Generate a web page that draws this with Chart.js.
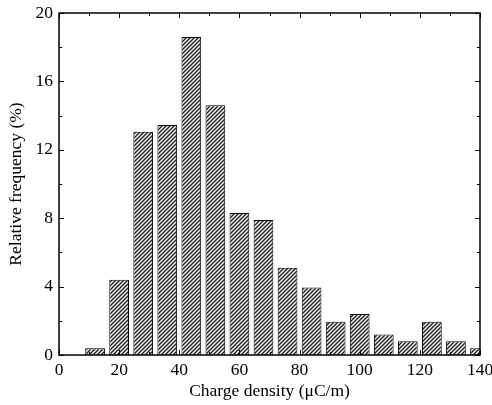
<!DOCTYPE html>
<html>
<head>
<meta charset="utf-8">
<script src="https://cdn.jsdelivr.net/npm/chart.js@4.4.1/dist/chart.umd.min.js"></script>
<style>
  html, body { margin: 0; padding: 0; background: #fff; }
</style>
</head>
<body>
<canvas id="chart" width="492" height="405"></canvas>
<script>
// ----------------------
// Data
// ----------------------
const binCenters = [12, 20, 28, 36, 44, 52, 60, 68, 76, 84, 92, 100, 108, 116, 124, 132, 140];
const frequency = [0.4, 4.4, 13.05, 13.45, 18.6, 14.6, 8.3, 7.9, 5.1, 3.95, 1.95, 2.4, 1.2, 0.8, 1.95, 0.8, 0.4];
const xTickLabels = [0, 20, 40, 60, 80, 100, 120, 140];
const yTickLabels = [0, 4, 8, 12, 16, 20];

const serif = "'Liberation Serif', 'Times New Roman', serif";

// diagonal hatch fill like the original bars
function makeHatch() {
    const size = 4;
    const c = document.createElement('canvas');
    c.width = size;
    c.height = size;
    const g = c.getContext('2d');
    g.fillStyle = '#f2f2f2';
    g.fillRect(0, 0, size, size);
    g.strokeStyle = '#1a1a1a';
    g.lineWidth = 1.3;
    g.beginPath();
    g.moveTo(-1, size + 1); g.lineTo(size + 1, -1);
    g.moveTo(-1, 1); g.lineTo(1, -1);
    g.moveTo(size - 1, size + 1); g.lineTo(size + 1, size - 1);
    g.stroke();
    return g.createPattern(c, 'repeat');
}

// the label overflow padding would shrink the plot; the frame is fixed instead
function noOverflow(s) {
    s.paddingLeft = 0;
    s.paddingRight = 0;
    s.paddingTop = 0;
    s.paddingBottom = 0;
}

// frame + inward ticks on all four sides
const frameTicks = {
    id: 'frameTicks',
    afterDraw(chart) {
        const { ctx, chartArea: a, scales: { x, y } } = chart;
        ctx.save();
        ctx.strokeStyle = '#000';
        ctx.lineWidth = 1;
        ctx.beginPath();
        for (let v = 0; v <= 140; v += 10) {
            const px = Math.round(x.getPixelForValue(v)) + 0.5;
            const len = v % 20 === 0 ? 5 : 3;
            ctx.moveTo(px, a.bottom); ctx.lineTo(px, a.bottom - len);
            ctx.moveTo(px, a.top); ctx.lineTo(px, a.top + len);
        }
        for (let v = 0; v <= 20; v += 2) {
            const py = Math.round(y.getPixelForValue(v)) + 0.5;
            const len = v % 4 === 0 ? 5 : 3;
            ctx.moveTo(a.left, py); ctx.lineTo(a.left + len, py);
            ctx.moveTo(a.right, py); ctx.lineTo(a.right - len, py);
        }
        ctx.stroke();
        ctx.lineWidth = 1.5;
        ctx.strokeRect(a.left, a.top, a.right - a.left, a.bottom - a.top);
        ctx.restore();
    }
};

const ctx = document.getElementById('chart').getContext('2d');

new Chart(ctx, {
    type: 'bar',
    data: {
        datasets: [{
            data: binCenters.map((c, i) => ({ x: c, y: frequency[i] })),
            backgroundColor: makeHatch(),
            borderColor: '#000',
            borderWidth: 1,
            barPercentage: 0.82,
            categoryPercentage: 1
        }]
    },
    options: {
        responsive: false,
        animation: false,
        layout: { padding: { top: 13, right: 12, left: 0, bottom: 0 } },
        plugins: { legend: { display: false }, tooltip: { enabled: false } },
        scales: {
            x: {
                type: 'linear',
                min: 0,
                max: 140,
                offset: false,
                afterFit: (s) => { s.height = 50; noOverflow(s); },
                afterBuildTicks: (s) => { s.ticks = xTickLabels.map(v => ({ value: v })); },
                ticks: { color: '#000', padding: 5, maxRotation: 0, font: { family: serif, size: 17.5 } },
                grid: { display: false, drawTicks: false },
                border: { display: false },
                title: {
                    display: true,
                    text: 'Charge density (\u03bcC/m)',
                    color: '#000',
                    font: { family: serif, size: 17.5 },
                    padding: { top: 0, bottom: 3 }
                }
            },
            y: {
                min: 0,
                max: 20,
                afterFit: (s) => { s.width = 59; noOverflow(s); },
                afterBuildTicks: (s) => { s.ticks = yTickLabels.map(v => ({ value: v })); },
                ticks: { color: '#000', padding: 6, font: { family: serif, size: 17.5 } },
                grid: { display: false, drawTicks: false },
                border: { display: false },
                title: {
                    display: true,
                    text: 'Relative frequency (%)',
                    color: '#000',
                    font: { family: serif, size: 17.5 },
                    padding: { top: 6, bottom: 0 }
                }
            }
        }
    },
    plugins: [frameTicks]
});
</script>
</body>
</html>
